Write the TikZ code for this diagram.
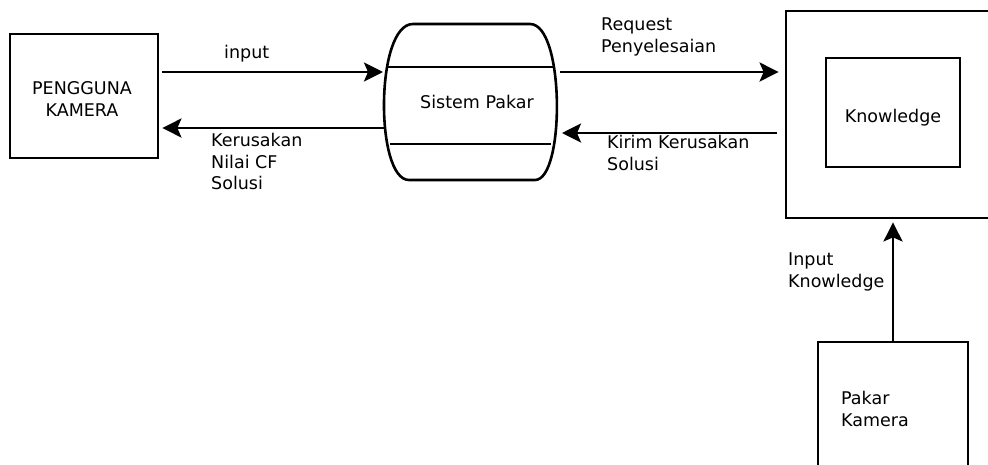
\documentclass[tikz,border=0pt]{standalone}
\usepackage{fontspec}
\setmainfont{DejaVu Sans}
\usetikzlibrary{arrows.meta}
\begin{document}
\begin{tikzpicture}[x=1pt,y=-1pt,
  every node/.style={font=\fontsize{17.5}{21.5}\selectfont},
  box/.style={draw, line width=2.8pt, inner sep=0pt},
  flow/.style={line width=2.8pt, -{Stealth[length=19pt,width=19pt,inset=4pt]}},
  lbl/.style={anchor=base west, align=left, inner sep=0pt},
  drum/.style={line width=2.6pt}]
\useasboundingbox (0,0) rectangle (988,464);
\clip (0,0) rectangle (988,464);

% external entities and the knowledge store
\node[box, minimum width=148pt, minimum height=124pt] (pengguna) at (84,96) {};
\node[anchor=base, align=center, inner sep=0pt] (penggunatxt) at (82,116) {PENGGUNA\\KAMERA};
\node[box, minimum width=214pt, minimum height=207pt] (kb) at (893,114.5) {};
\node[box, minimum width=134pt, minimum height=109pt, text height=23pt, text depth=4pt] (knowledge) at (893,112.5) {Knowledge};
\node[box, minimum width=150pt, minimum height=140pt] (pakar) at (893,412) {};
\node[lbl] (pakartxt) at (841,426) {Pakar\\Kamera};

% the process drum
\node[inner sep=0pt] (sp) at (477,102) {Sistem Pakar};
\draw[drum] (413,24) -- (530,24) .. controls (565,24) and (565,180) .. (535,180)
  -- (409,180) .. controls (375,180) and (375,24) .. (413,24) -- cycle;
\draw[drum] (388,67) -- (554,67);
\draw[drum] (390,144) -- (551,144);
\coordinate (spInL) at (383,72);
\coordinate (spOutL) at (385,128);
\coordinate (spOutR) at (560,72);
\coordinate (spInR) at (562,133);

% flows
\draw[flow] ([xshift=3pt]pengguna.east |- 0,72) -- (spInL);
\draw[flow] (spOutL) -- ([xshift=3pt]pengguna.east |- 0,128);
\draw[flow] (spOutR) -- ([xshift=-6pt]kb.west |- 0,72);
\draw[flow] ([xshift=-8pt]kb.west |- 0,133) -- (spInR);
\draw[flow] (pakar.north) -- ([yshift=-3pt]kb.south);

% flow labels
\node[lbl] (lin) at (224,58) {input};
\node[lbl] (lker) at (211,189.5) {Kerusakan\\Nilai CF\\Solusi};
\node[lbl] (lreq) at (601,52) {Request\\Penyelesaian};
\node[lbl] (lkir) at (607,170) {Kirim Kerusakan\\Solusi};
\node[lbl] (lik) at (788,287) {Input\\Knowledge};
\end{tikzpicture}
\end{document}
